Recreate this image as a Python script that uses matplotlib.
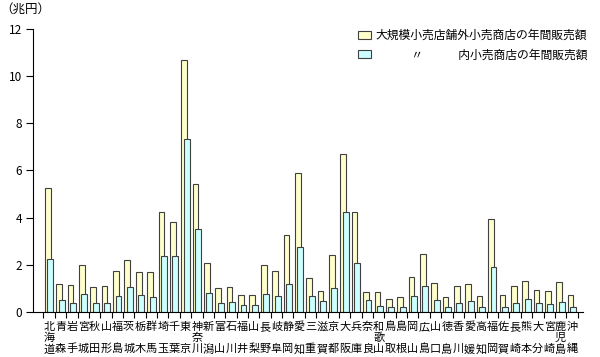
import matplotlib.pyplot as plt
from matplotlib.patches import Patch

plt.rcParams['font.family'] = ['Noto Sans CJK JP', 'DejaVu Sans']

# prefectures, stacked vertically as tick labels
prefs = ["北海道", "青森", "岩手", "宮城", "秋田", "山形", "福島", "茨城", "栃木", "群馬",
         "埼玉", "千葉", "東京", "神奈川", "新潟", "富山", "石川", "福井", "山梨", "長野",
         "岐阜", "静岡", "愛知", "三重", "滋賀", "京都", "大阪", "兵庫", "奈良", "和歌山",
         "鳥取", "島根", "岡山", "広島", "山口", "徳島", "香川", "愛媛", "高知", "福岡",
         "佐賀", "長崎", "熊本", "大分", "宮崎", "鹿児島", "沖縄"]

# annual sales (trillion yen)
outside = [5.27, 1.17, 1.13, 1.98, 1.05, 1.10, 1.72, 2.19, 1.68, 1.71,
           4.23, 3.83, 10.69, 5.43, 2.09, 1.00, 1.05, 0.74, 0.74, 1.98,
           1.72, 3.27, 5.88, 1.43, 0.90, 2.43, 6.70, 4.23, 0.83, 0.83,
           0.54, 0.64, 1.48, 2.46, 1.24, 0.64, 1.09, 1.17, 0.68, 3.96,
           0.71, 1.12, 1.30, 0.93, 0.90, 1.27, 0.74]
inside = [2.26, 0.49, 0.40, 0.76, 0.40, 0.37, 0.66, 1.05, 0.71, 0.64,
          2.36, 2.36, 7.34, 3.51, 0.79, 0.40, 0.42, 0.30, 0.30, 0.76,
          0.66, 1.17, 2.74, 0.66, 0.45, 1.02, 4.23, 2.09, 0.49, 0.27,
          0.20, 0.23, 0.66, 1.12, 0.49, 0.23, 0.37, 0.47, 0.23, 1.89,
          0.23, 0.37, 0.56, 0.40, 0.33, 0.42, 0.23]

legend_labels = ["大規模小売店舗外小売商店の年間販売額",
                 "　　　〃　　　内小売商店の年間販売額"]

yellow = "#FFFFCC"
cyan = "#CCFFFF"
edge = "#404040"


def stack(name):
    if len(name) == 2:
        return name[0] + "\n　\n" + name[1]
    return "\n".join(name)


fig = plt.figure(figsize=(6, 3.57), dpi=100)
ax = fig.add_axes([0.055, 0.126, 0.916, 0.793])

idx = list(range(len(prefs)))
ax.bar([i + 0.13 for i in idx], outside, width=0.5, align="edge",
       color=yellow, edgecolor=edge, linewidth=0.8)
ax.bar([i + 0.34 for i in idx], inside, width=0.52, align="edge",
       color=cyan, edgecolor=edge, linewidth=0.8)

ax.set_xlim(-0.92, 47.44)
ax.set_ylim(0, 12)
ax.set_yticks(range(0, 13, 2))
ax.tick_params(axis="y", direction="out", length=5, width=0.8, labelsize=8.5, pad=3)

ax.set_xticks(range(0, 48))
ax.set_xticklabels([])
ax.tick_params(axis="x", which="major", direction="out", length=4, width=0.8)
ax.set_xticks([i + 0.5 for i in idx], minor=True)
ax.set_xticklabels([stack(p) for p in prefs], minor=True, fontsize=8,
                   linespacing=1.12, va="top")
ax.tick_params(axis="x", which="minor", length=0, pad=7)

for s in ["top", "right"]:
    ax.spines[s].set_visible(False)
for s in ["left", "bottom"]:
    ax.spines[s].set_linewidth(0.8)

fig.text(0.0, 1 - 3 / 357, "（兆円）", fontsize=9, va="top", ha="left")

handles = [Patch(facecolor=yellow, edgecolor=edge, linewidth=0.8),
           Patch(facecolor=cyan, edgecolor=edge, linewidth=0.8)]
fig.legend(handles, legend_labels, loc="upper left",
           bbox_to_anchor=(358 / 600, 1 - 29 / 357), frameon=False,
           fontsize=8.5, handlelength=1.1, handleheight=0.7,
           handletextpad=0.4, labelspacing=0.55, borderpad=0, borderaxespad=0)

fig.savefig("out.png", dpi=100)
